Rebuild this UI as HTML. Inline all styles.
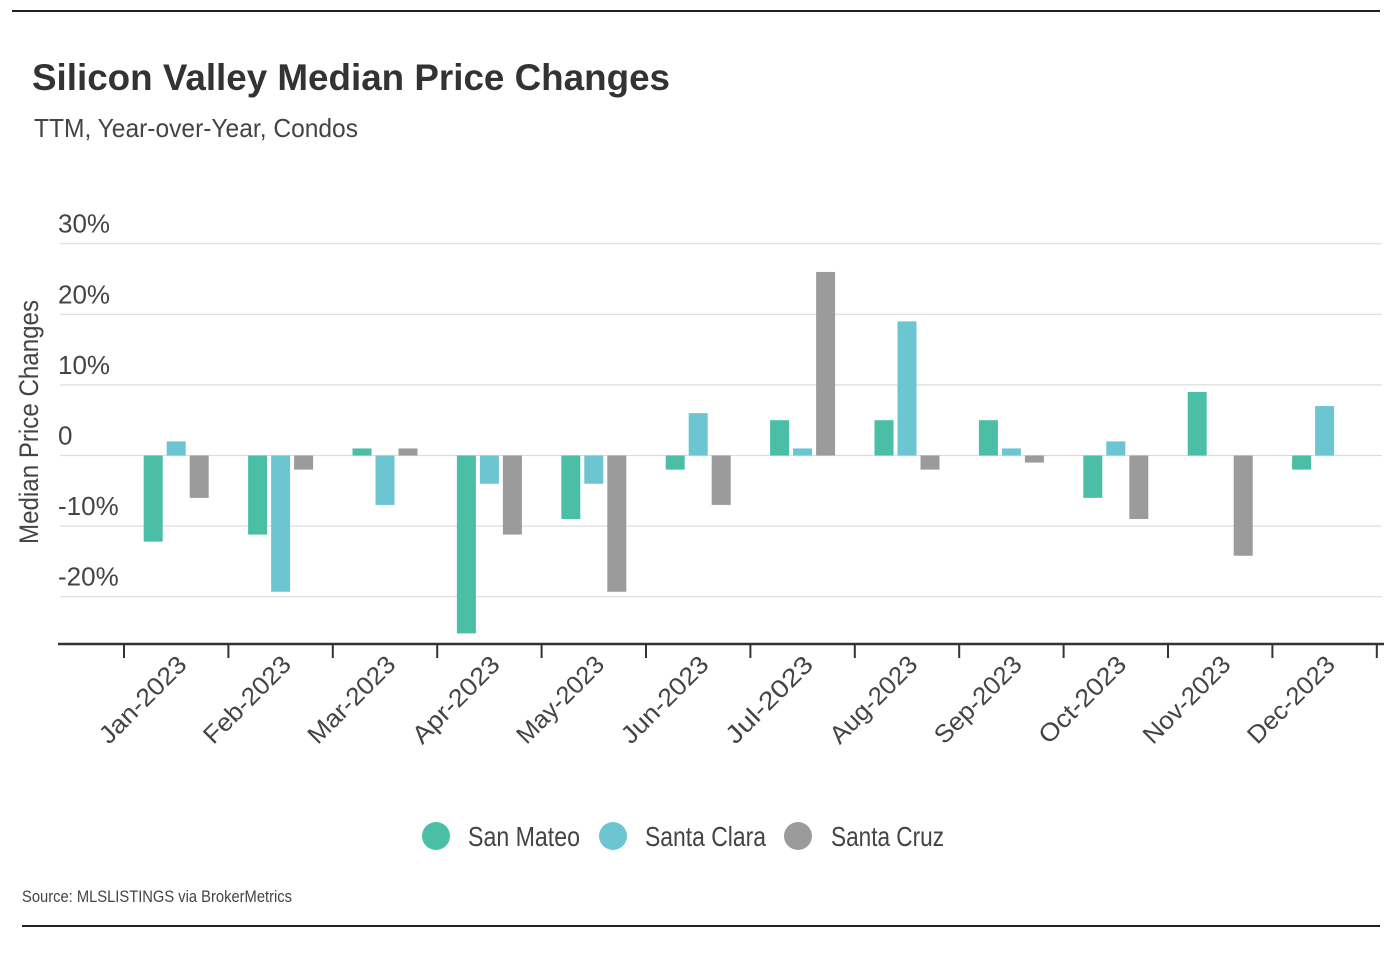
<!DOCTYPE html>
<html><head><meta charset="utf-8">
<style>
html,body{margin:0;padding:0;background:#fff;}
svg text{font-family:"Liberation Sans",sans-serif;}
</style></head>
<body>
<svg id="chart" width="1400" height="948" xmlns="http://www.w3.org/2000/svg">
<line x1="12" y1="11" x2="1380" y2="11" stroke="#222" stroke-width="2"/>
<line x1="22" y1="926" x2="1380" y2="926" stroke="#222" stroke-width="2"/>
<text x="32" y="90" font-size="37" font-weight="bold" fill="#333" textLength="638" lengthAdjust="spacingAndGlyphs">Silicon Valley Median Price Changes</text>
<text x="34" y="137" font-size="26" fill="#444" textLength="324" lengthAdjust="spacingAndGlyphs">TTM, Year-over-Year, Condos</text>
<text transform="translate(38,422) rotate(-90)" text-anchor="middle" font-size="27" fill="#444" textLength="244" lengthAdjust="spacingAndGlyphs">Median Price Changes</text>
<g id="grid"></g>
<g id="bars"></g>
<g id="xaxis"></g>
<g>
<circle cx="436" cy="836" r="14" fill="#4bbfa5"/>
<text x="468" y="846" font-size="28" fill="#444" textLength="112" lengthAdjust="spacingAndGlyphs">San Mateo</text>
<circle cx="613" cy="836" r="14" fill="#6bc6d2"/>
<text x="645" y="846" font-size="28" fill="#444" textLength="121" lengthAdjust="spacingAndGlyphs">Santa Clara</text>
<circle cx="798" cy="836" r="14" fill="#9b9b9b"/>
<text x="831" y="846" font-size="28" fill="#444" textLength="113" lengthAdjust="spacingAndGlyphs">Santa Cruz</text>
</g>
<text x="22" y="902" font-size="17" fill="#444" textLength="270" lengthAdjust="spacingAndGlyphs">Source:  MLSLISTINGS via BrokerMetrics</text>
</svg>
<script>
const categories=["Jan-2023","Feb-2023","Mar-2023","Apr-2023","May-2023","Jun-2023","Jul-2023","Aug-2023","Sep-2023","Oct-2023","Nov-2023","Dec-2023"];
const sanMateo=[-12.2,-11.2,1,-25.2,-9,-2,5,5,5,-6,9,-2];
const santaClara=[2,-19.3,-7,-4,-4,6,1,19,1,2,0,7];
const santaCruz=[-6,-2,1,-11.2,-19.3,-7,26,-2,-1,-9,-14.2,0];
const yTicks=[30,20,10,0,-10,-20];
const yTickLabels=["30%","20%","10%","0","-10%","-20%"];
const seriesList=[["san-mateo",sanMateo,"#4bbfa5"],["santa-clara",santaClara,"#6bc6d2"],["santa-cruz",santaCruz,"#9b9b9b"]];
const NS="http://www.w3.org/2000/svg";
const y0=455.5,pxPer=7.06,xL=124,step=104.4,bw=19,gap=4;
const yS=v=>y0-v*pxPer;
const xC=i=>xL+step*(i+0.5);
function mk(t,a,p){const e=document.createElementNS(NS,t);for(const k in a)e.setAttribute(k,a[k]);p.appendChild(e);return e;}
const grid=document.getElementById('grid');
yTicks.forEach((v,i)=>{
 const l=mk('line',{x1:60,x2:1382,y1:yS(v),y2:yS(v),stroke:'#ddd','stroke-width':1.2},grid);
 
 
 const t=mk('text',{x:58,y:yS(v)-11,'font-size':26,fill:'#444'},grid);
 
 
 t.textContent=yTickLabels[i];
});
const bars=document.getElementById('bars');
seriesList.forEach((s,si)=>{
 s[1].forEach((v,i)=>{
  const x=xC(i)+(si-1)*(bw+gap)-bw/2;
  const y=Math.min(yS(v),y0),h=Math.abs(yS(v)-y0);
  const r=mk('rect',{x:x,y:y,width:bw,height:h,fill:s[2]},bars);
  
  
 });
});
const xa=document.getElementById('xaxis');
const ax=mk('line',{x1:58,x2:1384,y1:644,y2:644,stroke:'#333','stroke-width':2.5},xa);


for(let i=0;i<=categories.length;i++){
 const tk=mk('line',{x1:xL+step*i,x2:xL+step*i,y1:644,y2:658,stroke:'#333','stroke-width':2},xa);
 
 
}
categories.forEach((c,i)=>{
 const ax0=xC(i)+12,ay=666;
 const t=mk('text',{x:ax0,y:ay,'text-anchor':'end','font-size':25,fill:'#444',transform:`rotate(-45 ${ax0} ${ay})`,textLength:112,lengthAdjust:'spacingAndGlyphs'},xa);
 
 
 t.textContent=c;
});
</script>
</body></html>
